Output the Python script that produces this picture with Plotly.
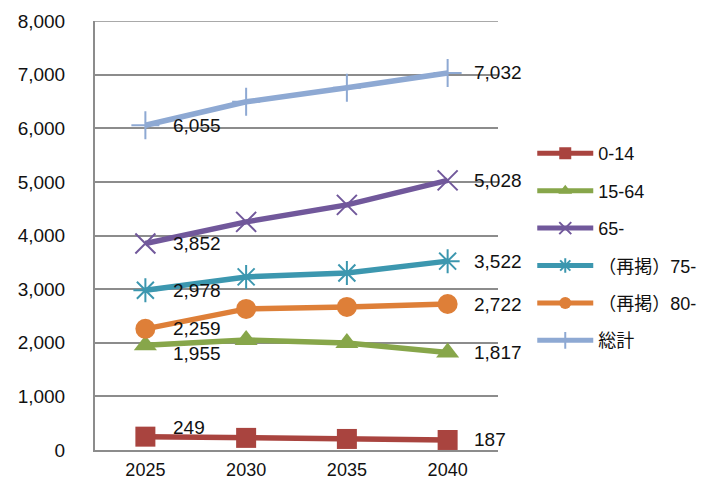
import plotly.graph_objects as go

years = ["2025", "2030", "2035", "2040"]
series_names = ["0-14", "15-64", "65-", "（再掲）75-", "（再掲）80-", "総計"]
v_0_14 = [249, 226, 206, 187]
v_15_64 = [1955, 2052, 1996, 1817]
v_65 = [3852, 4254, 4571, 5028]
v_75 = [2978, 3228, 3302, 3522]
v_80 = [2259, 2631, 2668, 2722]
v_total = [6055, 6493, 6754, 7032]
y_ticks = [0, 1000, 2000, 3000, 4000, 5000, 6000, 7000, 8000]

values = [v_0_14, v_15_64, v_65, v_75, v_80, v_total]
colors = ["#A9443F", "#87A64A", "#71589B", "#3C97AF", "#DE7F38", "#8EA9D3"]
symbols = ["square", "triangle-up", "x-thin-open", "asterisk-open", "circle", "cross-thin-open"]
first_shift = [9, -8, 0, 0, 0, 0]

FONT = "Liberation Sans, Arial, Noto Sans CJK JP"
GRID = "#8C8C8C"

fig = go.Figure()
annotations = []
for i, (name, vals) in enumerate(zip(series_names, values)):
    thin = symbols[i].endswith("-open")
    fig.add_trace(go.Scatter(
        x=years, y=vals, name=name, mode="lines+markers",
        legendgroup=f"g{i}",
        line=dict(color=colors[i], width=5.5),
        marker=dict(symbol=symbols[i], size=20, color=colors[i],
                    line=dict(color=colors[i], width=2 if thin else 0)),
    ))
    for j, ys, xs in ((0, first_shift[i], 26), (len(years) - 1, 0, 24)):
        annotations.append(dict(
            x=j, y=vals[j], xref="x", yref="y",
            text=f"{vals[j]:,}", showarrow=False,
            xanchor="left", yanchor="middle", xshift=xs, yshift=ys,
            font=dict(family=FONT, size=19, color="#111111"),
        ))

fig.add_shape(type="line", xref="paper", yref="y", x0=0, x1=1,
              y0=y_ticks[-1], y1=y_ticks[-1], layer="below",
              line=dict(color=GRID, width=1.6))

fig.update_layout(
    width=713, height=484,
    margin=dict(l=95, r=215, t=21, b=34, autoexpand=False),
    paper_bgcolor="white", plot_bgcolor="white",
    font=dict(family=FONT, size=18, color="#111111"),
    showlegend=True,
    legend=dict(x=1.085, y=0.473, xanchor="left", yanchor="middle",
                font=dict(family=FONT, size=18, color="#111111"),
                tracegroupgap=11, itemsizing="constant", itemwidth=56,
                bgcolor="rgba(0,0,0,0)"),
    annotations=annotations,
    xaxis=dict(type="category", range=[-0.5, 3.5], showgrid=False,
               showline=True, linecolor=GRID, linewidth=2,
               ticks="", ticklabelstandoff=2, automargin=False,
               tickfont=dict(family=FONT, size=18, color="#111111")),
    yaxis=dict(range=[0, 8000], tickvals=y_ticks, tickformat=",",
               showgrid=True, gridcolor=GRID, gridwidth=1.6,
               showline=True, linecolor=GRID, linewidth=2,
               zeroline=False, ticks="", ticklabelstandoff=24, automargin=False,
               tickfont=dict(family=FONT, size=19, color="#111111")),
)

fig.write_html("out.html")
